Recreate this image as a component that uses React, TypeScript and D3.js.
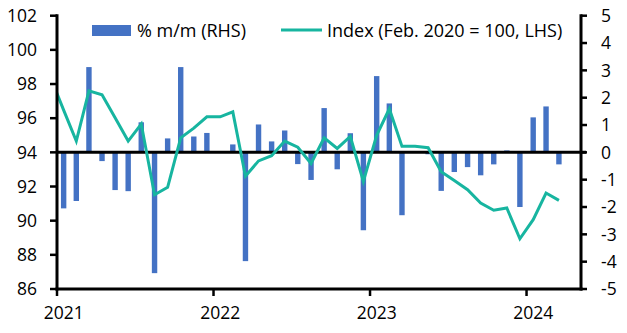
import React from "react";
import * as d3 from "d3";

// Months (first of month) for the monthly series
const months: string[] = [
  "2021-01","2021-02","2021-03","2021-04","2021-05","2021-06","2021-07","2021-08","2021-09","2021-10","2021-11","2021-12",
  "2022-01","2022-02","2022-03","2022-04","2022-05","2022-06","2022-07","2022-08","2022-09","2022-10","2022-11","2022-12",
  "2023-01","2023-02","2023-03","2023-04","2023-05","2023-06","2023-07","2023-08","2023-09","2023-10","2023-11","2023-12",
  "2024-01","2024-02","2024-03",
];

// % m/m (RHS)
const mom: number[] = [
  -2.05, -1.78, 3.12, -0.32, -1.38, -1.42, 1.10, -4.42, 0.51, 3.12, 0.58, 0.71,
  0.0, 0.29, -3.98, 1.02, 0.40, 0.80, -0.43, -1.01, 1.62, -0.62, 0.70, -2.85,
  2.79, 1.79, -2.30, 0.0, -0.07, -1.41, -0.72, -0.54, -0.84, -0.44, 0.07, -2.0,
  1.28, 1.68, -0.44,
];

// Index (Feb. 2020 = 100, LHS) — first value is Dec 2020 (clipped by the axis)
const indexMonths: string[] = ["2020-12", ...months];
const indexValues: number[] = [
  98.42,
  96.47, 94.66, 97.60, 97.37, 96.02, 94.66, 95.66, 91.52, 91.95, 94.85, 95.42, 96.08,
  96.08, 96.37, 92.60, 93.50, 93.80, 94.66, 94.30, 93.35, 94.85, 94.23, 94.93, 92.30,
  95.00, 96.55, 94.35, 94.35, 94.27, 92.86, 92.35, 91.81, 91.03, 90.61, 90.74, 88.94,
  90.06, 91.62, 91.19,
];

const leftTicks: number[] = [86, 88, 90, 92, 94, 96, 98, 100, 102];
const rightTicks: number[] = [-5, -4, -3, -2, -1, 0, 1, 2, 3, 4, 5];
const yearTicks: string[] = ["2021", "2022", "2023", "2024"];

const legendBar = "% m/m (RHS)";
const legendLine = "Index (Feb. 2020 = 100, LHS)";

const W = 627;
const H = 333;
const FONT = "'Open Sans', sans-serif";
const BAR = "#4472C4";
const LINE = "#17B5A0";
const TICK_FS = 17.5;
const LEG_FS = 18;

const parseMonth = d3.timeParse("%Y-%m");
const mid = (m: string) => {
  const s = parseMonth(m) as Date;
  const e = d3.timeMonth.offset(s, 1);
  return new Date((s.getTime() + e.getTime()) / 2);
};

export default function App() {
  const left = 57;
  const right = 581;
  const top = 15.7;
  const bottom = 289;

  const x = d3
    .scaleTime()
    .domain([new Date(2021, 0, 1), new Date(2024, 4, 7)])
    .range([left, right]);
  const yL = d3.scaleLinear().domain([86, 102]).range([bottom, top]);
  const yR = d3.scaleLinear().domain([-5, 5]).range([bottom, top]);

  const barW = 5.4;

  const lineGen = d3
    .line<number>()
    .x((_, i) => x(mid(indexMonths[i])))
    .y((d) => yL(d));

  return (
    <svg
      width={W}
      height={H}
      style={{ position: "absolute", left: 0, top: 0, background: "#fff" }}
      fontFamily={FONT}
    >
      <defs>
        <clipPath id="plot">
          <rect x={left} y={0} width={right - left} height={bottom} />
        </clipPath>
      </defs>

      {/* bars */}
      {mom.map((v, i) => {
        const cx = x(mid(months[i]));
        const y0 = yR(0);
        const y1 = yR(v);
        return (
          <rect
            key={i}
            x={cx - barW / 2}
            y={Math.min(y0, y1)}
            width={barW}
            height={Math.abs(y1 - y0)}
            fill={BAR}
          />
        );
      })}

      {/* zero line */}
      <line x1={left} x2={right + 5} y1={yR(0)} y2={yR(0)} stroke="#000" strokeWidth={3} />

      {/* index line */}
      <path
        d={lineGen(indexValues) || ""}
        fill="none"
        stroke={LINE}
        strokeWidth={3}
        strokeLinejoin="miter"
        clipPath="url(#plot)"
      />

      {/* left axis */}
      <line x1={left} x2={left} y1={top - 1.5} y2={bottom + 1.5} stroke="#000" strokeWidth={3} />
      {leftTicks.map((t) => (
        <g key={t}>
          <line x1={left - 7} x2={left} y1={yL(t)} y2={yL(t)} stroke="#000" strokeWidth={2.5} />
          <text x={37} y={yL(t)} dy="0.36em" textAnchor="end" fontSize={TICK_FS} fill="#000">
            {t}
          </text>
        </g>
      ))}

      {/* right axis */}
      <line x1={right} x2={right} y1={top - 1.5} y2={bottom + 1.5} stroke="#000" strokeWidth={3} />
      {rightTicks.map((t) => (
        <g key={t}>
          <line x1={right} x2={right + 6} y1={yR(t)} y2={yR(t)} stroke="#000" strokeWidth={2.5} />
          <text x={601} y={yR(t)} dy="0.36em" textAnchor="start" fontSize={TICK_FS} fill="#000">
            {t < 0 ? "-" + Math.abs(t) : String(t)}
          </text>
        </g>
      ))}

      {/* bottom axis */}
      <line x1={left - 1.5} x2={right + 1.5} y1={bottom} y2={bottom} stroke="#000" strokeWidth={3} />
      {yearTicks.map((yr) => {
        const d = new Date(+yr, 0, 1);
        return (
          <g key={yr}>
            <line x1={x(d)} x2={x(d)} y1={bottom} y2={bottom + 7} stroke="#000" strokeWidth={2.5} />
            <text x={x(mid(yr + "-01"))} y={318.5} textAnchor="middle" fontSize={TICK_FS} fill="#000">
              {yr}
            </text>
          </g>
        );
      })}

      {/* legend */}
      <rect x={92} y={25} width={39} height={11} fill={BAR} />
      <text x={137} y={36.5} fontSize={LEG_FS} fill="#000">
        {legendBar}
      </text>
      <line x1={281} x2={322} y1={30} y2={30} stroke={LINE} strokeWidth={3} />
      <text x={327} y={36.5} fontSize={LEG_FS} fill="#000">
        {legendLine}
      </text>
    </svg>
  );
}
